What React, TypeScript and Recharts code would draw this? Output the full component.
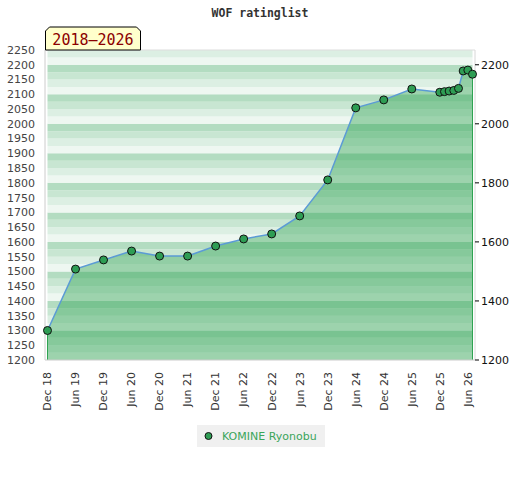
import React from 'react';
import {
  ComposedChart, Area, Line, XAxis, YAxis, ReferenceArea, ReferenceLine, Legend,
} from 'recharts';

// months counted from Dec 2018
const MONTHS = [0, 6, 12, 18, 24, 30, 36, 42, 48, 54, 60, 66, 72, 78, 84, 85, 86, 87, 88, 89, 90, 91];
const RATINGS = [1300, 1508, 1539, 1569, 1552, 1552, 1586, 1610, 1627, 1688, 1810, 2054, 2081, 2118, 2107, 2109, 2111, 2113, 2120, 2179, 2182, 2168];

const X_TICKS = [0, 6, 12, 18, 24, 30, 36, 42, 48, 54, 60, 66, 72, 78, 84, 90];
const X_LABELS = ['Dec 18', 'Jun 19', 'Dec 19', 'Jun 20', 'Dec 20', 'Jun 21', 'Dec 21', 'Jun 22', 'Dec 22', 'Jun 23', 'Dec 23', 'Jun 24', 'Dec 24', 'Jun 25', 'Dec 25', 'Jun 26'];
const LEFT_TICKS = [1200, 1250, 1300, 1350, 1400, 1450, 1500, 1550, 1600, 1650, 1700, 1750, 1800, 1850, 1900, 1950, 2000, 2050, 2100, 2150, 2200, 2250];
const RIGHT_TICKS = [1200, 1400, 1600, 1800, 2000, 2200];

const PLAYER = 'KOMINE Ryonobu';
const TITLE = 'WOF ratinglist';
const PERIOD = '2018–2026';

const Y_MIN = 1200;
const Y_MAX = 2250;
const BAND = 25;
const BAND_SHADES = ['#eef7f1', '#dcefe3', '#c8e6d2', '#b3dcc1'];

const data = MONTHS.map((m, i) => ({ month: m, rating: RATINGS[i] }));

const bands: { y1: number; y2: number; fill: string }[] = [];
for (let v = Y_MIN, i = 0; v < Y_MAX; v += BAND, i++) {
  bands.push({ y1: v, y2: v + BAND, fill: BAND_SHADES[i % 4] });
}

const FONT = '"DejaVu Sans", sans-serif';
const MONO = '"DejaVu Sans Mono", monospace';

function XTick({ x, y, payload }: any) {
  const idx = X_TICKS.indexOf(payload.value);
  return (
    <text
      x={x}
      y={y + 4}
      transform={`rotate(-90, ${x}, ${y + 4})`}
      textAnchor="end"
      dy="0.35em"
      fill="#333"
      fontSize={11}
      fontFamily={FONT}
    >
      {X_LABELS[idx]}
    </text>
  );
}

function LegendBox() {
  return (
    <div style={{
      background: '#f0f0f0', height: 22, display: 'flex', alignItems: 'center',
      fontFamily: FONT, fontSize: 11, color: '#3aa55a',
    }}>
      <svg width={20} height={22}>
        <circle cx={11.5} cy={11} r={3.5} fill="#2e9d54" stroke="#111" strokeWidth={1} />
      </svg>
      <span style={{ marginLeft: 5 }}>{PLAYER}</span>
    </div>
  );
}

export default function App() {
  return (
    <div style={{ position: 'relative', width: 520, height: 480, background: '#fff' }}>
      <style>{'body{margin:0}'}</style>
      <ComposedChart
        width={520}
        height={480}
        data={data}
        margin={{ top: 50, right: 0, left: 0, bottom: 0 }}
      >
        <XAxis
          type="number"
          dataKey="month"
          domain={[0, 91]}
          ticks={X_TICKS}
          interval={0}
          height={98}
          padding={{ left: 2.5, right: 2.5 }}
          axisLine={{ stroke: '#cccccc' }}
          tickLine={false}
          tick={<XTick />}
        />
        <YAxis
          yAxisId="left"
          type="number"
          domain={[Y_MIN, Y_MAX]}
          ticks={LEFT_TICKS}
          interval={0}
          width={45}
          tickSize={8}
          tickLine={false}
          axisLine={{ stroke: '#cccccc' }}
          tick={{ fill: '#444', fontSize: 11, fontFamily: FONT }}
        />
        <YAxis
          yAxisId="right"
          orientation="right"
          type="number"
          domain={[Y_MIN, Y_MAX]}
          allowDataOverflow
          ticks={RIGHT_TICKS}
          interval={0}
          width={45}
          tickSize={4}
          tickMargin={2}
          tickLine={{ stroke: '#000' }}
          axisLine={{ stroke: '#d8d8d8' }}
          tick={{ fill: '#111', fontSize: 11, fontFamily: FONT }}
        />
        {bands.map((b, i) => (
          <ReferenceArea
            key={i}
            yAxisId="left"
            y1={b.y1}
            y2={b.y2}
            fill={b.fill}
            fillOpacity={1}
            stroke="none"
          />
        ))}
        <ReferenceLine yAxisId="left" y={Y_MAX} stroke="#dddddd" />
        <Area
          yAxisId="right"
          type="linear"
          dataKey="rating"
          baseValue={Y_MIN}
          fill="#239d49"
          fillOpacity={0.4}
          stroke="none"
          isAnimationActive={false}
          legendType="none"
        />
        <ReferenceLine
          yAxisId="left"
          segment={[{ x: MONTHS[0], y: Y_MIN }, { x: MONTHS[0], y: RATINGS[0] }]}
          stroke="#2fa352"
        />
        <ReferenceLine
          yAxisId="left"
          segment={[{ x: MONTHS[MONTHS.length - 1], y: Y_MIN }, { x: MONTHS[MONTHS.length - 1], y: RATINGS[RATINGS.length - 1] }]}
          stroke="#2fa352"
        />
        <Line
          yAxisId="left"
          type="linear"
          dataKey="rating"
          name={PLAYER}
          stroke="#5b9bd5"
          strokeWidth={1.5}
          dot={{ r: 4, fill: '#2e9d54', stroke: '#111', strokeWidth: 1 }}
          isAnimationActive={false}
        />
        <Legend
          content={<LegendBox />}
          wrapperStyle={{ position: 'absolute', top: 425, left: 197, width: 128, height: 22, bottom: 'auto' }}
        />
      </ComposedChart>
      <svg width={520} height={60} style={{ position: 'absolute', left: 0, top: 0 }}>
        <text x={260} y={17} textAnchor="middle" fontFamily={MONO} fontWeight="bold" fontSize={11.5} fill="#333">
          {TITLE}
        </text>
        <polygon
          points="45.5,50 45.5,31 49.5,27 136.5,27 140.5,31 140.5,50"
          fill="#ffffcc"
          stroke="#000"
          strokeWidth={1}
        />
        <text x={93} y={45} textAnchor="middle" fontFamily={MONO} fontSize={15} fill="#8b0000">
          {PERIOD}
        </text>
      </svg>
    </div>
  );
}
